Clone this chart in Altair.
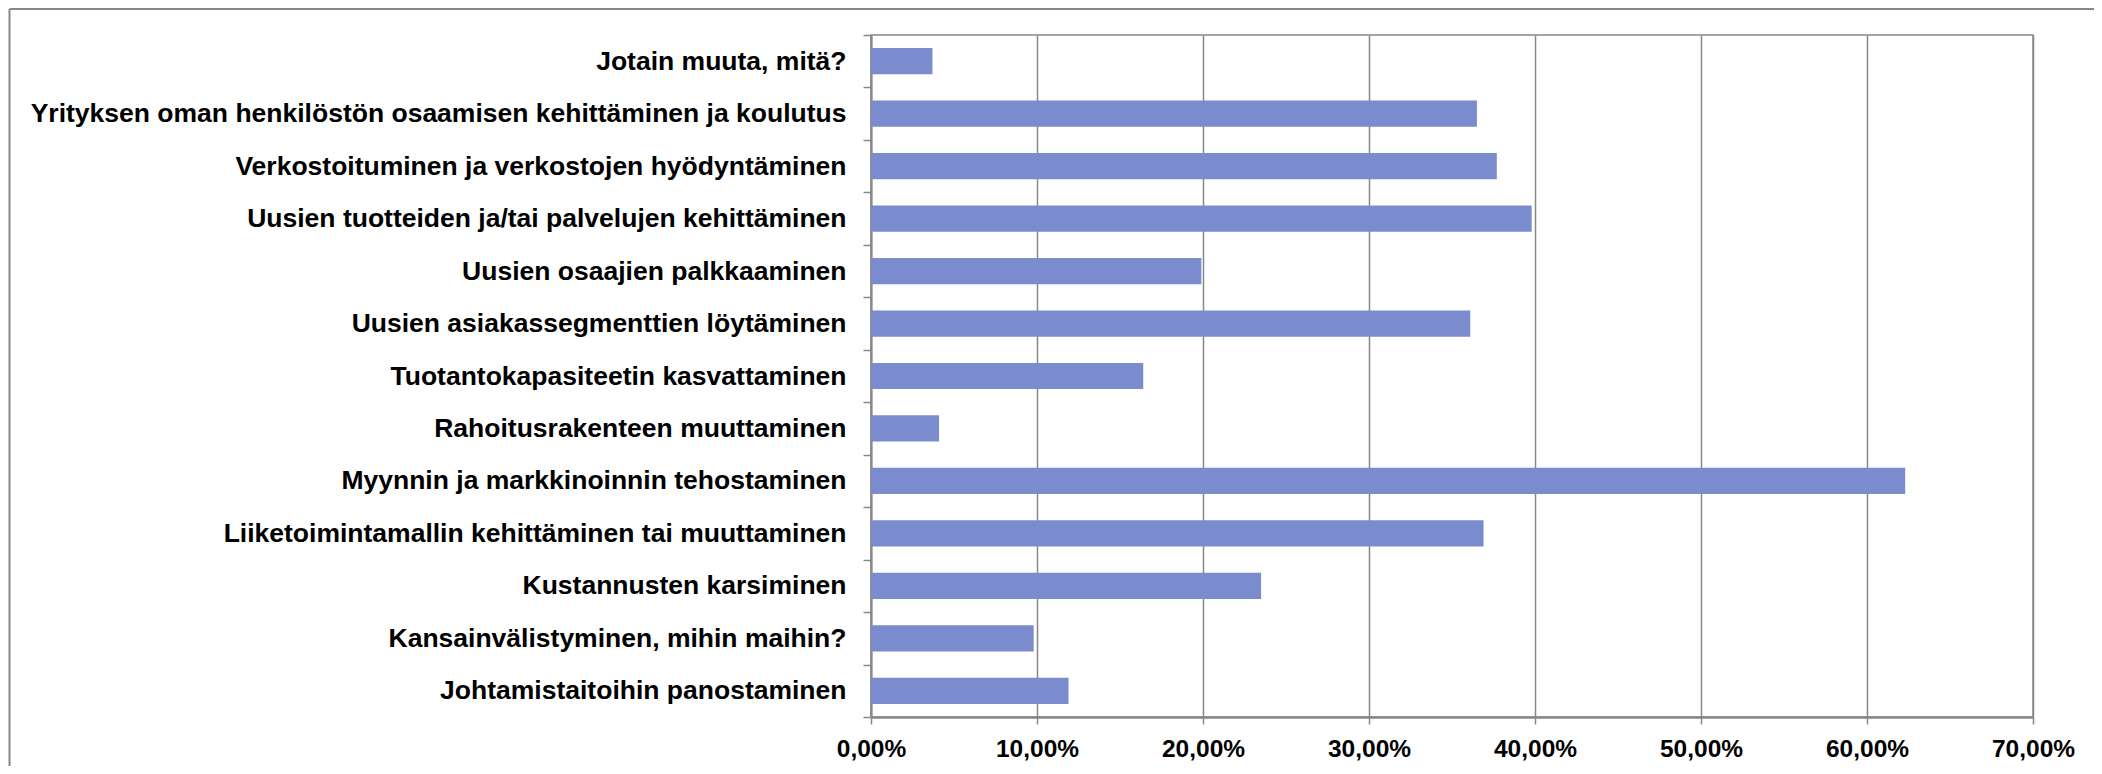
import altair as alt
import pandas as pd

categories = [
    "Jotain muuta, mitä?",
    "Yrityksen oman henkilöstön osaamisen kehittäminen ja koulutus",
    "Verkostoituminen ja verkostojen hyödyntäminen",
    "Uusien tuotteiden ja/tai palvelujen kehittäminen",
    "Uusien osaajien palkkaaminen",
    "Uusien asiakassegmenttien löytäminen",
    "Tuotantokapasiteetin kasvattaminen",
    "Rahoitusrakenteen muuttaminen",
    "Myynnin ja markkinoinnin tehostaminen",
    "Liiketoimintamallin kehittäminen tai muuttaminen",
    "Kustannusten karsiminen",
    "Kansainvälistyminen, mihin maihin?",
    "Johtamistaitoihin panostaminen",
]
values = [0.037, 0.365, 0.377, 0.398, 0.199, 0.361, 0.164, 0.041, 0.623, 0.369, 0.235, 0.098, 0.119]
tick_values = [0.0, 0.1, 0.2, 0.3, 0.4, 0.5, 0.6, 0.7]

df = pd.DataFrame({"kategoria": categories, "osuus": values})

GRAY = "#888888"
BAR = "#7a8bce"
FONT = "Liberation Sans"

bars = alt.Chart(df).mark_bar(color=BAR, height=alt.RelativeBandSize(band=0.5)).encode(
    y=alt.Y(
        "kategoria:N",
        sort=None,
        title=None,
        scale=alt.Scale(paddingInner=0, paddingOuter=0),
        axis=alt.Axis(
            tickBand="extent",
            ticks=True,
            tickSize=8,
            tickColor=GRAY,
            tickWidth=1.5,
            domainColor=GRAY,
            domainWidth=2,
            labelFont=FONT,
            labelFontWeight="bold",
            labelFontSize=26.5,
            labelColor="#000000",
            labelPadding=17,
            labelLimit=1000,
            grid=False,
        ),
    ),
    x=alt.X(
        "osuus:Q",
        title=None,
        scale=alt.Scale(domain=[0, 0.7], nice=False),
        axis=alt.Axis(
            values=tick_values,
            labelExpr="replace(format(datum.value, '.2%'), '.', ',')",
            labelFlush=False,
            grid=True,
            gridColor=GRAY,
            gridWidth=1.5,
            ticks=True,
            tickSize=7,
            tickColor=GRAY,
            tickWidth=1.5,
            domainColor=GRAY,
            domainWidth=2.5,
            labelFont=FONT,
            labelFontWeight="bold",
            labelFontSize=24.5,
            labelColor="#000000",
            labelPadding=13,
        ),
    ),
)

frame = pd.DataFrame({"k": [0]})
left_border = alt.Chart(frame).mark_rule(color=GRAY, strokeWidth=2).encode(
    x=alt.value(-861.5), y=alt.value(-26), y2=alt.value(800)
)
top_border = alt.Chart(frame).mark_rule(color=GRAY, strokeWidth=2).encode(
    x=alt.value(-861.5), x2=alt.value(1400), y=alt.value(-26)
)

chart = alt.layer(bars, left_border, top_border).properties(
    width=1162,
    height=682,
    autosize=alt.AutoSizeParams(type="none"),
    padding={"left": 863, "top": 27, "right": 61, "bottom": 49},
    background="white",
).configure_view(stroke=GRAY, strokeWidth=1.5)

chart.save("out.html", embed_options={"renderer": "svg", "actions": False})
